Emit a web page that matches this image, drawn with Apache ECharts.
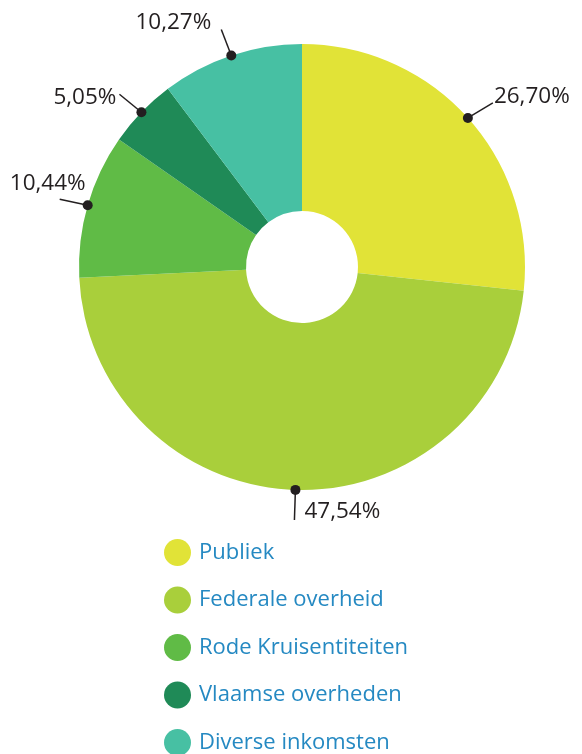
<!DOCTYPE html>
<html>
<head>
<meta charset="utf-8">
<script src="https://cdn.jsdelivr.net/npm/echarts@6/dist/echarts.min.js"></script>
<style>
  html, body { margin: 0; padding: 0; background: #fff; }
  #chart { width: 582px; height: 754px; }
</style>
</head>
<body>
<div id="chart"></div>
<script>
// data
var categories = ['Publiek', 'Federale overheid', 'Rode Kruisentiteiten', 'Vlaamse overheden', 'Diverse inkomsten'];
var shares = [26.70, 47.54, 10.44, 5.05, 10.27];
var colors = ['#e1e337', '#a9cf3b', '#60bb46', '#1f8a57', '#47c0a3'];

// where each label sits relative to its dot (pixels)
var labelOffsets = [
  { line: [25, -15], text: [26, -21], align: 'left' },
  { line: [-1, 30], text: [9, 22], align: 'left' },
  { line: [-28, -6], text: [-2, -22], align: 'right' },
  { line: [-22, -18], text: [-25, -15], align: 'right' },
  { line: [-10, -26], text: [-20, -33], align: 'right' }
];

var center = [302, 267];
var outerR = 223;
var fontFamily = '"Open Sans", "Noto Sans", sans-serif';

// mid angle of each slice, in percent of the circle
var mids = [];
var acc = 0;
shares.forEach(function (v) {
  mids.push(acc + v / 2);
  acc += v;
});

var pieData = categories.map(function (name, i) {
  return { name: name, value: shares[i], itemStyle: { color: colors[i] } };
});

var markerData = shares.map(function (v, i) {
  return [1, mids[i], v.toFixed(2).replace('.', ',') + '%'];
});

var chart = echarts.init(document.getElementById('chart'));
chart.setOption({
  animation: false,
  legend: {
    data: categories,
    orient: 'vertical',
    left: 164,
    top: 539,
    height: 240,
    padding: 0,
    icon: 'circle',
    itemWidth: 27,
    itemHeight: 27,
    itemGap: 20.5,
    textStyle: { fontSize: 22, color: '#2589c2', fontFamily: fontFamily, padding: [0, 0, 0, 3] }
  },
  polar: { center: center, radius: outerR },
  angleAxis: { type: 'value', min: 0, max: 100, startAngle: 90, clockwise: true, show: false },
  radiusAxis: { type: 'value', min: 0, max: 1, show: false },
  series: [
    {
      type: 'pie',
      center: center,
      radius: [56, outerR],
      startAngle: 90,
      clockwise: true,
      label: { show: false },
      labelLine: { show: false },
      emphasis: { disabled: true },
      data: pieData
    },
    {
      type: 'custom',
      coordinateSystem: 'polar',
      silent: true,
      z: 10,
      data: markerData,
      renderItem: function (params, api) {
        var i = params.dataIndex;
        var p = api.coord([api.value(0), api.value(1)]);
        var off = labelOffsets[i];
        return {
          type: 'group',
          children: [
            {
              type: 'line',
              shape: { x1: p[0], y1: p[1], x2: p[0] + off.line[0], y2: p[1] + off.line[1] },
              style: { stroke: '#231f20', lineWidth: 1.5 }
            },
            {
              type: 'circle',
              shape: { cx: p[0], cy: p[1], r: 5 },
              style: { fill: '#231f20' }
            },
            {
              type: 'text',
              style: {
                x: p[0] + off.text[0],
                y: p[1] + off.text[1],
                text: markerData[i][2],
                align: off.align,
                verticalAlign: 'middle',
                font: '22.5px ' + fontFamily,
                fill: '#231f20'
              }
            }
          ]
        };
      }
    }
  ]
});
</script>
</body>
</html>
